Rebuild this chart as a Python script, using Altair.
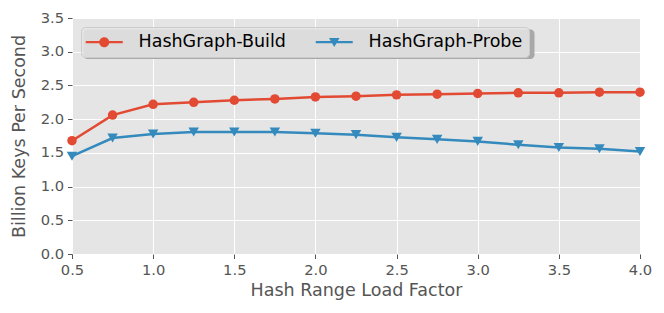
import altair as alt
import pandas as pd

load_factor = [0.5, 0.75, 1.0, 1.25, 1.5, 1.75, 2.0, 2.25, 2.5, 2.75, 3.0, 3.25, 3.5, 3.75, 4.0]
build = [1.68, 2.06, 2.22, 2.25, 2.28, 2.30, 2.33, 2.34, 2.36, 2.37, 2.38, 2.39, 2.39, 2.40, 2.40]
probe = [1.45, 1.72, 1.78, 1.81, 1.81, 1.81, 1.79, 1.77, 1.73, 1.70, 1.67, 1.62, 1.58, 1.56, 1.52]
series_names = ["HashGraph-Build", "HashGraph-Probe"]
colors = ["#E24A33", "#348ABD"]
x_ticks = [0.5, 1.0, 1.5, 2.0, 2.5, 3.0, 3.5, 4.0]
y_ticks = [0.0, 0.5, 1.0, 1.5, 2.0, 2.5, 3.0, 3.5]

rows = []
for name, vals in zip(series_names, [build, probe]):
    for xv, yv in zip(load_factor, vals):
        rows.append({"x": xv, "y": yv, "series": name})
df = pd.DataFrame(rows)

FONT = "DejaVu Sans"

xenc = alt.X("x:Q", scale=alt.Scale(domain=[0.5, 4.0], nice=False, zero=False),
             axis=alt.Axis(title="Hash Range Load Factor", values=x_ticks, format=".1f", labelFlush=False))
yenc = alt.Y("y:Q", scale=alt.Scale(domain=[0, 3.5], nice=False),
             axis=alt.Axis(title="Billion Keys Per Second", values=y_ticks, format=".1f", labelFlush=False))
color_scale = alt.Scale(domain=series_names, range=colors)

# legend symbols: line with marker (custom paths)
legend_paths = [
    "M-2,-0.22 L5.4,-0.22 L5.4,0.22 L-2,0.22 Z M2.7,0 A1,1 0 1,1 0.7,0 A1,1 0 1,1 2.7,0 Z",
    "M-2,-0.22 L5.4,-0.22 L5.4,0.22 L-2,0.22 Z M0.65,-0.85 L2.75,-0.85 L1.7,0.95 Z",
]

legend_def = alt.Legend(title=None, orient="none", legendX=9, legendY=9,
                        direction="horizontal", columns=2,
                        symbolSize=100, symbolStrokeWidth=0,
                        labelOffset=34, columnPadding=29,
                        labelFontSize=17.5, labelFont=FONT, labelColor="#000000",
                        padding=6, fillColor="rgba(229,229,229,0.85)",
                        strokeColor="#CCCCCC", cornerRadius=4)

cenc = alt.Color("series:N", scale=color_scale, legend=legend_def)
senc = alt.Shape("series:N", scale=alt.Scale(domain=series_names, range=legend_paths), legend=legend_def)

base = alt.Chart(df)

legend_layer = base.mark_point(filled=True, size=0, opacity=1).encode(
    x=xenc, y=yenc, color=cenc, shape=senc,
)

lines = base.mark_line(strokeWidth=2.5).encode(x=xenc, y=yenc, color=cenc)

pts_build = base.transform_filter(alt.datum.series == series_names[0]).mark_point(
    filled=True, shape="circle", size=90, opacity=1
).encode(x=xenc, y=yenc, color=cenc)

pts_probe = base.transform_filter(alt.datum.series == series_names[1]).mark_point(
    filled=True, shape="triangle-down", size=110, opacity=1
).encode(x=xenc, y=yenc, color=cenc)

shadow = alt.Chart(pd.DataFrame({"a": [0]})).mark_rect(color="#A8A8A8", cornerRadius=4).encode(
    x=alt.value(11.5), x2=alt.value(462.5), y=alt.value(11.5), y2=alt.value(41)
)

chart = alt.layer(shadow, legend_layer, lines, pts_build, pts_probe).properties(
    width=568, height=236,
    autosize=alt.AutoSizeParams(type="none"),
    padding={"left": 64, "top": 10, "right": 16, "bottom": 51},
).configure_view(
    fill="#E5E5E5", stroke=None
).configure_axis(
    domain=False, grid=True, gridColor="#FFFFFF", gridWidth=1,
    tickColor="#555555", tickSize=4.5, tickWidth=1,
    labelColor="#555555", labelFont=FONT, labelFontSize=14.7, labelPadding=4,
    titleColor="#555555", titleFont=FONT, titleFontSize=17.5, titleFontWeight="normal",
).configure_axisX(
    titlePadding=4
).configure_axisY(
    titlePadding=12
)

chart.save("out.html", embed_options={"renderer": "svg", "actions": False})
